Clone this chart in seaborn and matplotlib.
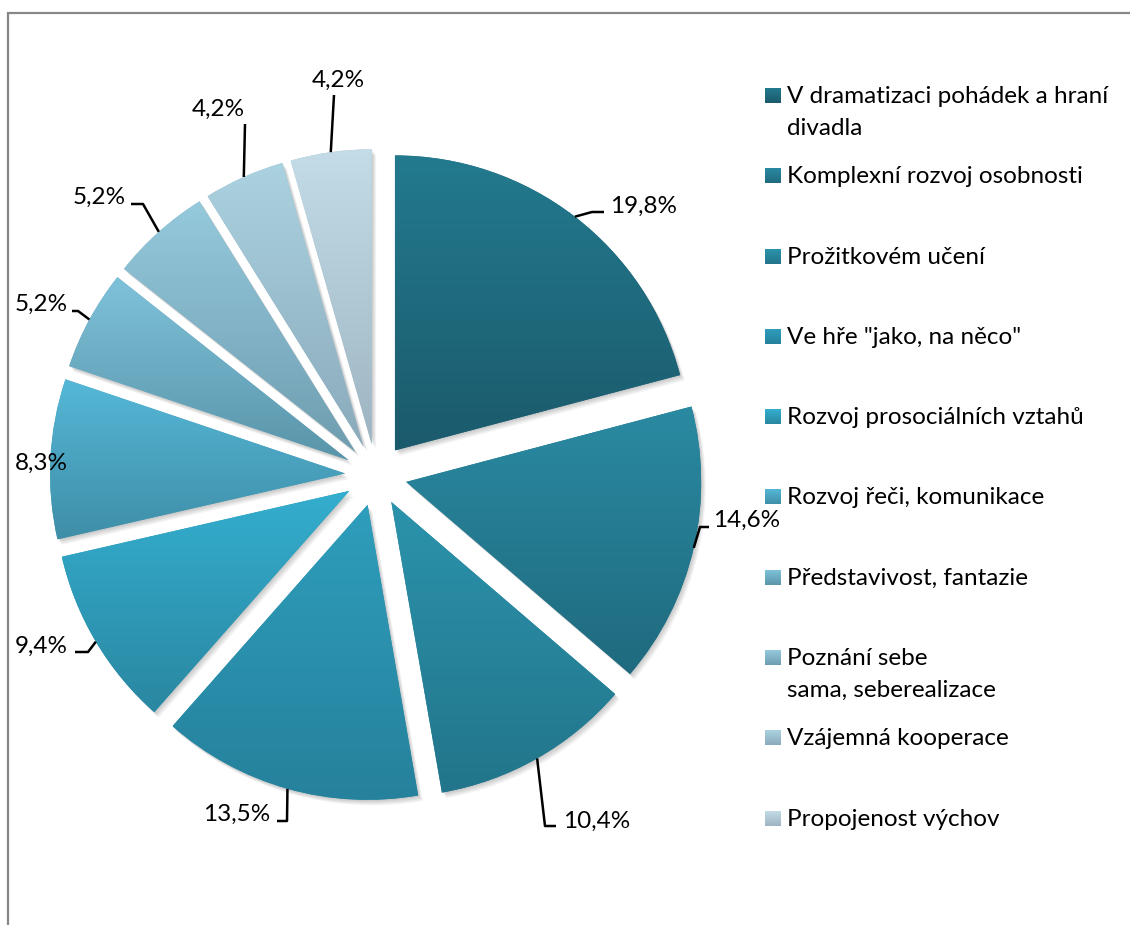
import numpy as np
import matplotlib
matplotlib.use("Agg")
import matplotlib.pyplot as plt
from matplotlib.patches import Wedge
from matplotlib.colors import to_rgb
import seaborn as sns

# ---- data -------------------------------------------------------------
categories = [
    "V dramatizaci pohádek a hraní\ndivadla",
    "Komplexní rozvoj osobnosti",
    "Prožitkovém učení",
    "Ve hře \"jako, na něco\"",
    "Rozvoj prosociálních vztahů",
    "Rozvoj řeči, komunikace",
    "Představivost, fantazie",
    "Poznání sebe\nsama, seberealizace",
    "Vzájemná kooperace",
    "Propojenost výchov",
]
shares = [19.8, 14.6, 10.4, 13.5, 9.4, 8.3, 5.2, 5.2, 4.2, 4.2]

# ---- styling ----------------------------------------------------------
top_colors = ["#237a8e", "#2a8aa2", "#2b93ac", "#2e9ebc", "#34aecf",
              "#55b8d8", "#7ec2da", "#95c9dc", "#abd2e0", "#c3dce7"]
bottom_colors = ["#1b5a6c", "#1f6a7e", "#22758a", "#26819c", "#2a87a1",
                 "#3f8ea7", "#5a95a9", "#6f9db0", "#8aaabb", "#9eb4c2"]

# label anchor (x, baseline y, alignment) and leader bend points
label_anchor = [(610, 213, "left"), (713, 527, "left"), (563, 828, "left"),
                (270, 821, "right"), (68, 653, "right"), (68, 470, "right"),
                (68, 311, "right"), (126, 204, "right"), (245, 116, "right"),
                (312, 87, "left")]
leader_bends = [[(592, 212), (604, 212)],
                [(700, 527), (709, 527)],
                [(545, 826), (556, 826)],
                [(287, 821), (277, 821)],
                [(88, 652), (75, 652)],
                [],
                [(78, 311), (72, 311)],
                [(143, 204), (131, 204)],
                [(245, 124)],
                [(334, 95)]]

sns.set_theme(style="white")
plt.rcParams["font.family"] = ["Lato", "DejaVu Sans"]
FS = 17.5

W, H = 1130, 925
fig = plt.figure(figsize=(W / 100, H / 100), dpi=100)
ax = fig.add_axes([0, 0, 1, 1])

pie_center = (376, 475)
pie_radius = 295
gap = 31


def vgrad(c_top, c_bot, n=256):
    t = np.linspace(0, 1, n)[:, None]
    a = np.array(to_rgb(c_top))
    b = np.array(to_rgb(c_bot))
    return (a * (1 - t) + b * t)[:, None, :]


mean_colors = [tuple((np.array(to_rgb(a)) + np.array(to_rgb(b))) / 2)
               for a, b in zip(top_colors, bottom_colors)]

wedges, _ = ax.pie(shares, explode=[gap] * len(shares), center=pie_center,
                   radius=pie_radius, startangle=-90, counterclock=True,
                   colors=mean_colors, wedgeprops=dict(linewidth=0))

# soft drop shadows behind each slice
for w in wedges:
    w.set_zorder(1)
    for k in range(1, 6):
        sh = Wedge((w.center[0] + 0.9 * k, w.center[1] + 1.1 * k), w.r,
                   w.theta1, w.theta2, facecolor="black", alpha=0.045,
                   linewidth=0, zorder=0.5)
        ax.add_patch(sh)

# vertical gradient fill clipped to each slice
for w, ct, cb in zip(wedges, top_colors, bottom_colors):
    ext = w.get_path().get_extents()
    im = ax.imshow(vgrad(ct, cb), extent=(ext.x0, ext.x1, ext.y1, ext.y0),
                   origin="upper", aspect="auto", interpolation="bilinear",
                   zorder=2)
    im.set_clip_path(w)

# percentage labels with leader lines
for w, v, (tx, ty, ha), bends in zip(wedges, shares, label_anchor, leader_bends):
    th = np.deg2rad((w.theta1 + w.theta2) / 2)
    px = w.center[0] + w.r * np.cos(th)
    py = w.center[1] + w.r * np.sin(th)
    if bends:
        xs = [px] + [b[0] for b in bends]
        ys = [py] + [b[1] for b in bends]
        ax.plot(xs, ys, color="black", lw=1.8, zorder=4,
                solid_capstyle="butt")
    ax.text(tx, ty, f"{v:.1f}%".replace(".", ","), ha=ha, va="baseline",
            fontsize=FS, color="black", zorder=5)

# legend
leg_x, leg_base, leg_step = 765, 103, 80.3
for i, (cat, ct, cb) in enumerate(zip(categories, top_colors, bottom_colors)):
    base = leg_base + i * leg_step
    ax.imshow(vgrad(ct, cb), extent=(leg_x, leg_x + 16, base, base - 15),
              origin="upper", aspect="auto", zorder=3)
    for k, line in enumerate(cat.split("\n")):
        ax.text(leg_x + 22, base + k * 32, line, ha="left", va="baseline",
                fontsize=FS, color="black", zorder=5)

# chart frame
ax.plot([8, 8, W], [H, 13, 13], color="#878787", lw=1.6, zorder=6,
        clip_on=False, solid_joinstyle="miter")

ax.set_xlim(0, W)
ax.set_ylim(H, 0)
ax.set_aspect("equal")
ax.axis("off")

fig.savefig("out.png", dpi=100)
